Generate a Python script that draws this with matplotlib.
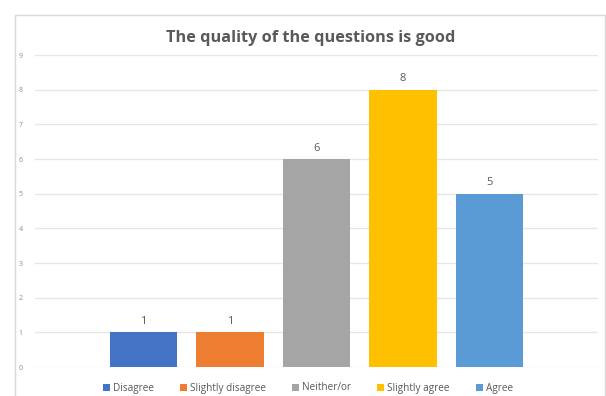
import matplotlib.pyplot as plt
from matplotlib.patches import Rectangle

# data
labels = ["Disagree", "Slightly disagree", "Neither/or", "Slightly agree", "Agree"]
counts = [1, 1, 6, 8, 5]
colors = ["#4472C4", "#ED7D31", "#A5A5A5", "#FFC000", "#5B9BD5"]
title = "The quality of the questions is good"

plt.rcParams['font.family'] = ['Open Sans', 'DejaVu Sans']

fig = plt.figure(figsize=(6.06, 3.96), dpi=100)
W, H = 606, 396
ax = fig.add_axes([35 / W, 1 - 367 / H, (598 - 35) / W, (367 - 55) / H])

# chart frame like the excel chart area
fig.patches.append(Rectangle((15 / W, -0.01), (605 - 15) / W, 1 - 15 / H + 0.01,
                             transform=fig.transFigure, fill=False,
                             edgecolor="#d9d9d9", lw=1))

for i, (lab, v, c) in enumerate(zip(labels, counts, colors)):
    ax.bar(i, v, width=0.78, color=c, label=lab, zorder=3)
    ax.text(i, v + 0.15, str(v), ha="center", va="bottom", fontsize=8,
            color="#595959")

ax.set_xlim(-1.254, 4 + 1.254)
ax.set_ylim(0, 9)
ax.set_yticks(range(0, 10))
ax.set_xticks([])
ax.grid(axis="y", color="#e6e6e6", lw=1, zorder=0)
for s in ax.spines.values():
    s.set_visible(False)
ax.tick_params(axis="y", length=0, labelsize=5, labelcolor="#8c8c8c", pad=9)

fig.text(0.513, 1 - 38 / H, title, ha="center", va="center", fontsize=11.7,
         fontweight="bold", color="#595959")

fig.legend(loc="center", bbox_to_anchor=(0.508, 1 - 388 / H), ncol=5, frameon=False,
           fontsize=7.2, handlelength=0.7, handleheight=0.7, handletextpad=0.3,
           columnspacing=2.6, labelcolor="#595959")

fig.savefig("out.png", dpi=100)
